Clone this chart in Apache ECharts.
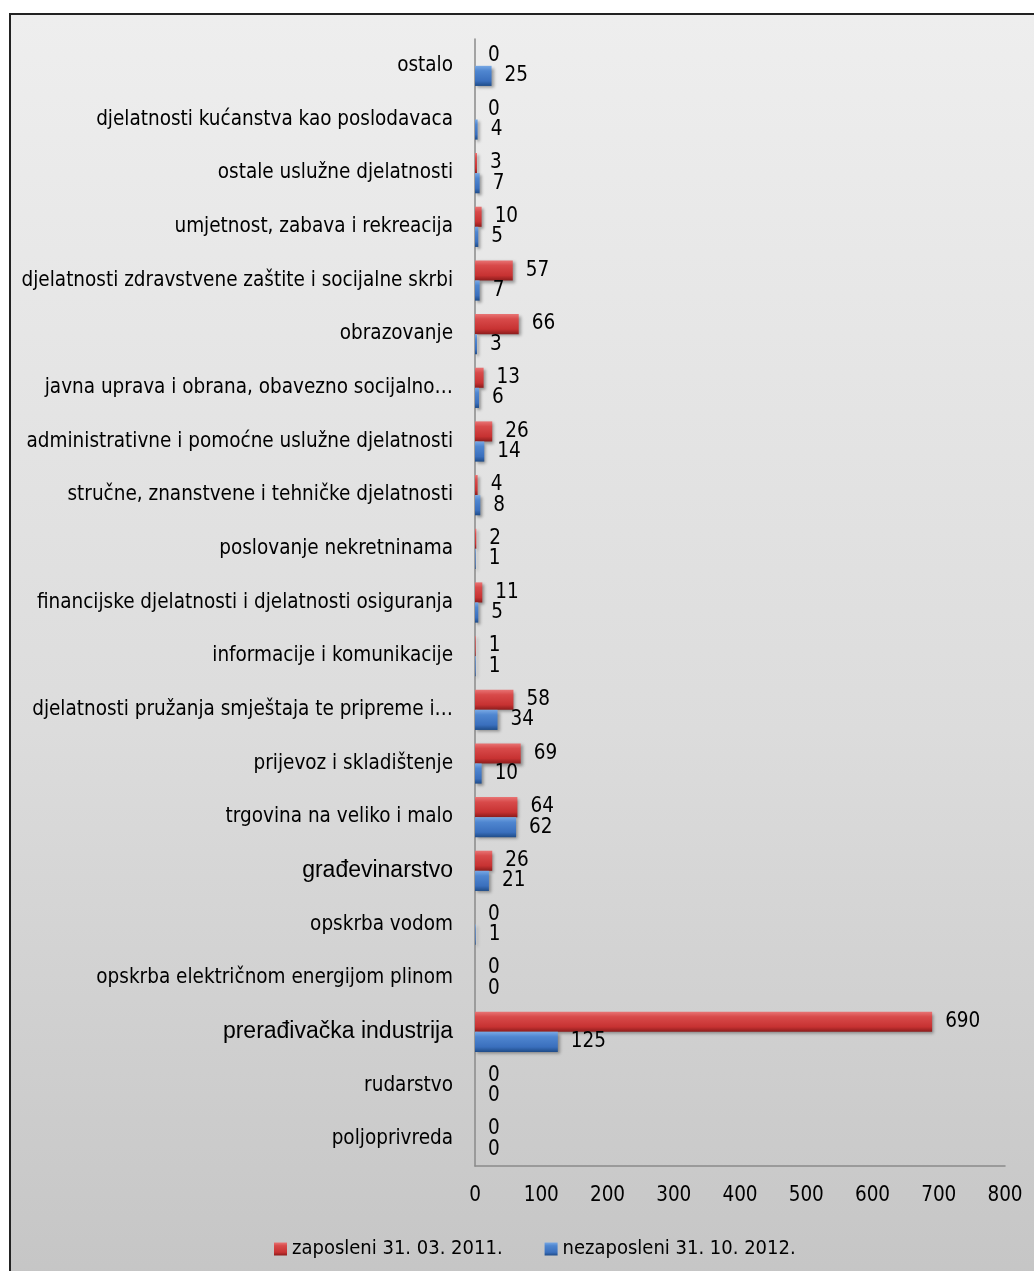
<!DOCTYPE html>
<html>
<head>
<meta charset="utf-8">
<script src="https://cdn.jsdelivr.net/npm/echarts@6/dist/echarts.min.js"></script>
<style>
  html, body { margin: 0; padding: 0; background: #ffffff; }
  #frame {
    position: absolute; left: 9px; top: 13px; width: 1060px; height: 1300px;
    border: 2px solid #222;
    background: linear-gradient(to bottom, #eeeeee 0%, #dcdcdc 55%, #c4c4c4 100%);
  }
  #chart { position: absolute; left: 0; top: 0; width: 1034px; height: 1271px; }
</style>
</head>
<body>
<div id="frame"></div>
<div id="chart"></div>
<script>
const categories = [
  'poljoprivreda',
  'rudarstvo',
  'prerađivačka industrija',
  'opskrba električnom energijom plinom',
  'opskrba vodom',
  'građevinarstvo',
  'trgovina na veliko i malo',
  'prijevoz i skladištenje',
  'djelatnosti pružanja smještaja te pripreme i…',
  'informacije i komunikacije',
  'financijske djelatnosti i djelatnosti osiguranja',
  'poslovanje nekretninama',
  'stručne, znanstvene i tehničke djelatnosti',
  'administrativne i pomoćne uslužne djelatnosti',
  'javna uprava i obrana, obavezno socijalno…',
  'obrazovanje',
  'djelatnosti zdravstvene zaštite i socijalne skrbi',
  'umjetnost, zabava i rekreacija',
  'ostale uslužne djelatnosti',
  'djelatnosti kućanstva kao poslodavaca',
  'ostalo'
];
const zaposleni2011 = [0, 0, 690, 0, 0, 26, 64, 69, 58, 1, 11, 2, 4, 26, 13, 66, 57, 10, 3, 0, 0];
const nezaposleni2012 = [0, 0, 125, 0, 1, 21, 62, 10, 34, 1, 5, 1, 8, 14, 6, 3, 7, 5, 7, 4, 25];
const seriesNames = ['zaposleni 31. 03. 2011.', 'nezaposleni 31. 10. 2012.'];
const xTicks = [0, 100, 200, 300, 400, 500, 600, 700, 800];
const arialLabels = ['prerađivačka industrija', 'građevinarstvo'];

const NARROW = "'Liberation Sans Narrow', 'Arial Narrow', 'DejaVu Sans Condensed', sans-serif";
const FS = 20.5;

const redGrad = new echarts.graphic.LinearGradient(0, 0, 0, 1, [
  { offset: 0, color: '#e87474' },
  { offset: 0.25, color: '#d84a4a' },
  { offset: 0.75, color: '#c73232' },
  { offset: 1, color: '#8c1c1c' }
]);
const blueGrad = new echarts.graphic.LinearGradient(0, 0, 0, 1, [
  { offset: 0, color: '#78a8e4' },
  { offset: 0.25, color: '#4f86d0' },
  { offset: 0.75, color: '#3a6fbd' },
  { offset: 1, color: '#1f4c88' }
]);

const chart = echarts.init(document.getElementById('chart'), null, { renderer: 'canvas' });

const labelCommon = {
  show: true, position: 'right', distance: 13,
  color: '#000', fontSize: FS, fontFamily: NARROW
};

chart.setOption({
  backgroundColor: 'transparent',
  animation: false,
  textStyle: { fontFamily: NARROW },
  grid: {
    left: 475, top: 39, width: 530, height: 1127,
    containLabel: false, outerBoundsMode: 'none'
  },
  legend: {
    left: 269, top: 1234,
    itemWidth: 13, itemHeight: 13, itemGap: 42,
    icon: 'rect',
    data: seriesNames,
    textStyle: { fontSize: 20, color: '#000', fontFamily: NARROW }
  },
  xAxis: {
    type: 'value', min: xTicks[0], max: xTicks[xTicks.length - 1], interval: 100,
    axisLine: { show: true, lineStyle: { color: '#8a8a8a', width: 1.5 } },
    axisTick: { show: false },
    splitLine: { show: false },
    axisLabel: { color: '#000', fontSize: FS, fontFamily: NARROW, margin: 19 }
  },
  yAxis: {
    type: 'category', data: categories,
    axisLine: { show: true, lineStyle: { color: '#8a8a8a', width: 1.5 } },
    axisTick: { show: false },
    axisLabel: {
      color: '#000', fontSize: FS, fontFamily: NARROW, margin: 22,
      formatter: function (v) {
        return arialLabels.indexOf(v) >= 0 ? '{a|' + v + '}' : v;
      },
      rich: {
        a: { fontFamily: "'Liberation Sans', Arial, sans-serif", fontSize: 23, color: '#000' }
      }
    }
  },
  series: [
    {
      name: seriesNames[0], type: 'bar', data: zaposleni2011,
      barGap: '0%', barCategoryGap: '25%',
      itemStyle: { color: redGrad, shadowColor: 'rgba(0,0,0,0.35)', shadowBlur: 3, shadowOffsetX: 2, shadowOffsetY: 2 },
      label: labelCommon
    },
    {
      name: seriesNames[1], type: 'bar', data: nezaposleni2012,
      barGap: '0%', barCategoryGap: '25%',
      itemStyle: { color: blueGrad, shadowColor: 'rgba(0,0,0,0.35)', shadowBlur: 3, shadowOffsetX: 2, shadowOffsetY: 2 },
      label: labelCommon
    }
  ]
});
</script>
</body>
</html>
